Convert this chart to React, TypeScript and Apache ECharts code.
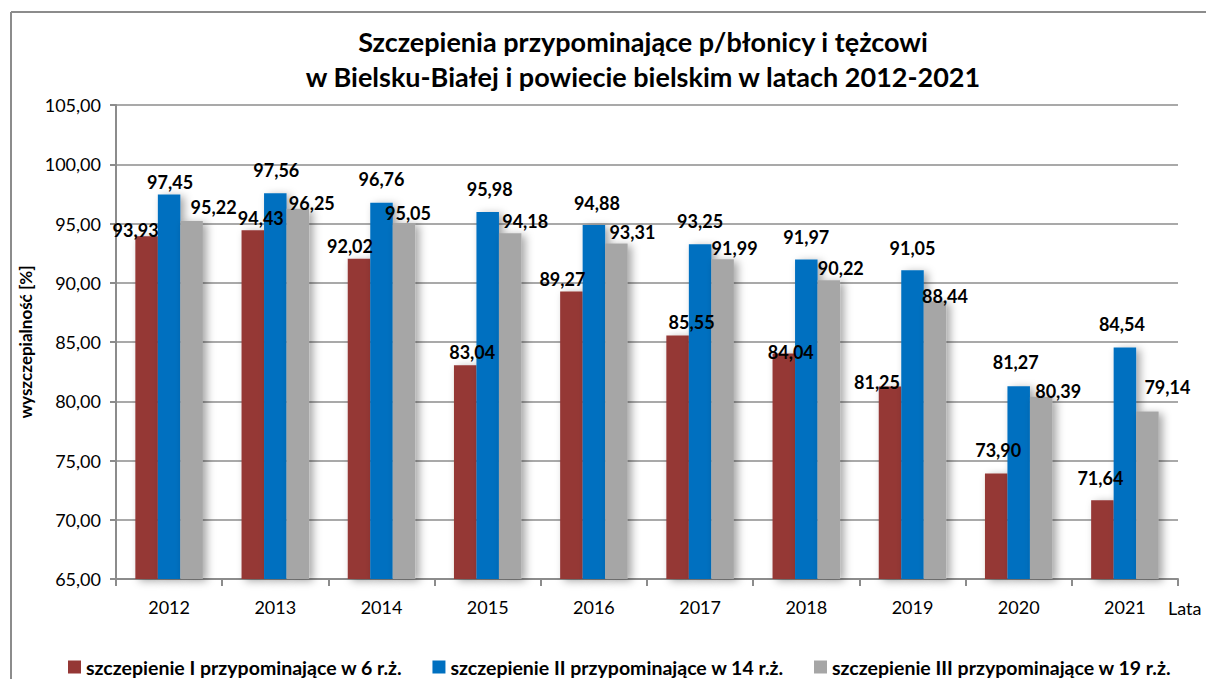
import React, { useEffect, useRef } from "react";
import * as echarts from "echarts";

const years = ["2012", "2013", "2014", "2015", "2016", "2017", "2018", "2019", "2020", "2021"];
const seriesNames = [
  "szczepienie I przypominające w 6 r.ż.",
  "szczepienie II przypominające w 14 r.ż.",
  "szczepienie III przypominające w 19 r.ż.",
];
const dose1 = [93.93, 94.43, 92.02, 83.04, 89.27, 85.55, 84.04, 81.25, 73.9, 71.64];
const dose2 = [97.45, 97.56, 96.76, 95.98, 94.88, 93.25, 91.97, 91.05, 81.27, 84.54];
const dose3 = [95.22, 96.25, 95.05, 94.18, 93.31, 91.99, 90.22, 88.44, 80.39, 79.14];

// label nudges (px) mimicking the manually placed Excel labels
const shift1 = [[-11, 8], [8, 2], [-9, 1], [7, 1], [-9, 2], [14, 1], [7, 13], [-13, 10], [2, -10], [-2, -8]];
const shift2 = [[1, 2], [1, -9], [0, -10], [2, -9], [3, -8], [0, -9], [0, -8], [0, -8], [-3, -10], [-3, -9]];
const shift3 = [[22, 0], [14, 8], [4, 4], [15, 2], [16, 2], [12, 3], [12, 2], [10, 9], [17, 8], [20, -10]];

const colors = ["#953735", "#0070C0", "#A6A6A6"];
const FONT = "Lato, 'Open Sans', sans-serif";
const fmt = (v: number) => v.toFixed(2).replace(".", ",");

function buildSeries(name: string, vals: number[], shifts: number[][], color: string) {
  return {
    name,
    type: "bar",
    barWidth: 22.5,
    barGap: "0%",
    itemStyle: {
      color,
      shadowBlur: 8,
      shadowOffsetX: 4,
      shadowOffsetY: 2,
      shadowColor: "rgba(0,0,0,0.35)",
    },
    label: {
      show: true,
      position: "top",
      distance: 5,
      formatter: (p: any) => fmt(p.value),
      fontFamily: FONT,
      fontWeight: "bold",
      fontSize: 18,
      color: "#000",
    },
    data: vals.map((v, i) => ({ value: v, label: { offset: shifts[i] } })),
  };
}

export default function App() {
  const ref = useRef<HTMLDivElement>(null);
  useEffect(() => {
    const chart = echarts.init(ref.current!, undefined, { renderer: "svg" });
    chart.setOption({
      animation: false,
      backgroundColor: "#fff",
      title: {
        text: "Szczepienia przypominające p/błonicy i tężcowi\nw Bielsku-Białej i powiecie bielskim w latach 2012-2021",
        left: 638,
        textAlign: "center",
        top: 19,
        textStyle: { fontFamily: FONT, fontWeight: "bold", fontSize: 27, lineHeight: 35, color: "#000" },
      },
      graphic: [
        { type: "line", shape: { x1: 11, y1: 12, x2: 1206, y2: 12 }, style: { stroke: "#8c8c8c", lineWidth: 2 } },
        { type: "line", shape: { x1: 11, y1: 12, x2: 11, y2: 679 }, style: { stroke: "#8c8c8c", lineWidth: 2 } },
      ],
      legend: {
        top: 652,
        left: 63,
        icon: "rect",
        itemWidth: 13,
        itemHeight: 13,
        itemGap: 30,
        textStyle: { fontFamily: FONT, fontWeight: "bold", fontSize: 19.5, color: "#000" },
        data: seriesNames,
      },
      grid: { left: 116, right: 28, top: 105, bottom: 100 },
      xAxis: {
        type: "category",
        data: years,
        name: "Lata",
        nameLocation: "end",
        nameGap: -10,
        nameTextStyle: { fontFamily: FONT, fontSize: 18, color: "#000", verticalAlign: "top", align: "left", padding: [20, 0, 0, 0] },
        axisLine: { lineStyle: { color: "#8c8c8c", width: 2 } },
        axisTick: { show: true, length: 7, lineStyle: { color: "#8c8c8c", width: 2 } },
        axisLabel: { margin: 19, fontFamily: FONT, fontSize: 18, color: "#000" },
      },
      yAxis: {
        type: "value",
        min: 65,
        max: 105,
        interval: 5,
        name: "wyszczepialność [%]",
        nameLocation: "middle",
        nameGap: 70,
        nameTextStyle: { fontFamily: FONT, fontWeight: "bold", fontSize: 17, color: "#000" },
        axisLine: { show: true, lineStyle: { color: "#8c8c8c", width: 2 } },
        axisTick: { show: true, length: 6, lineStyle: { color: "#8c8c8c", width: 2 } },
        axisLabel: { margin: 15, fontFamily: FONT, fontSize: 18, color: "#000", formatter: (v: number) => fmt(v) },
        splitLine: { lineStyle: { color: "#8c8c8c", width: 1.5 } },
      },
      series: [
        buildSeries(seriesNames[0], dose1, shift1, colors[0]),
        buildSeries(seriesNames[1], dose2, shift2, colors[1]),
        buildSeries(seriesNames[2], dose3, shift3, colors[2]),
      ],
    });
    return () => chart.dispose();
  }, []);
  return <div ref={ref} style={{ position: "absolute", left: 0, top: 0, width: 1206, height: 679 }} />;
}
